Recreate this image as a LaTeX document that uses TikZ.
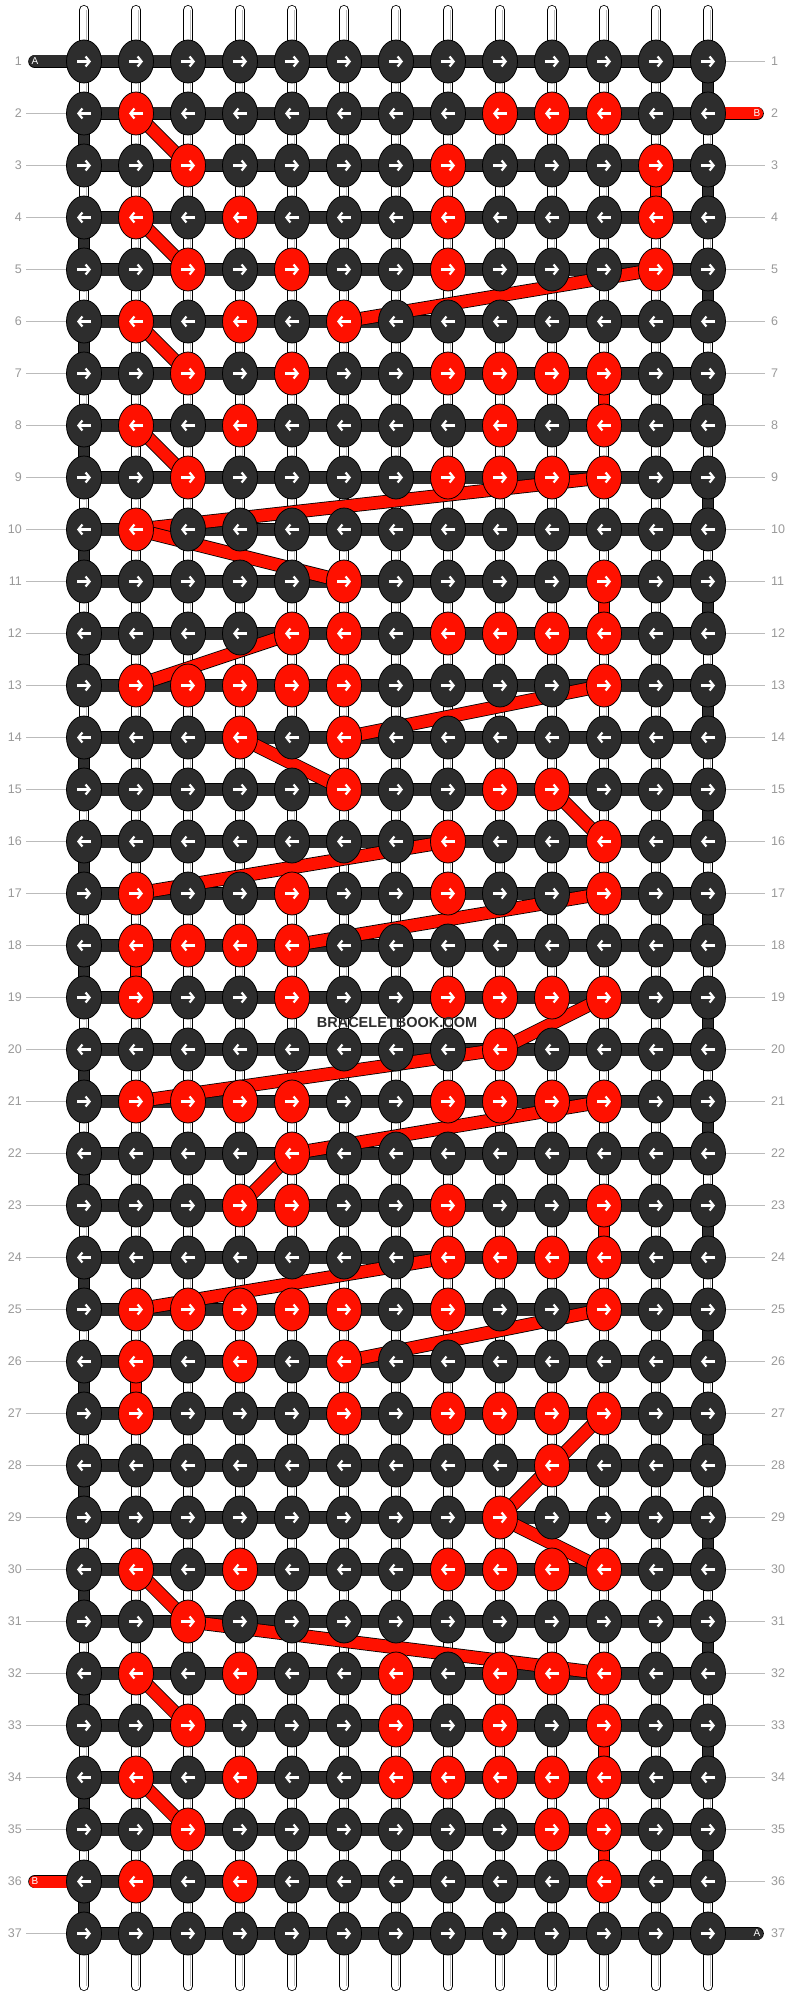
\documentclass[tikz,border=0pt]{standalone}
\usepackage{fontspec}
\setmainfont{Liberation Sans}
\usepackage{tikz}
\usetikzlibrary{arrows.meta}
\usetikzlibrary{shapes.geometric}
\definecolor{knotdark}{HTML}{2D2D2D}
\definecolor{knotred}{HTML}{FF1100}
\definecolor{numgray}{HTML}{999999}
\definecolor{linegray}{HTML}{BBBBBB}
\pgfdeclarelayer{strings}
\pgfdeclarelayer{bars}
\pgfsetlayers{strings,bars,main}
\tikzset{
	knotstyle/.style={ellipse,draw=black,line width=0.8pt,minimum width=35pt,minimum height=43pt,inner sep=0pt,fill=#1},
	arrowstyle/.style={white,line width=2.2pt,-{Straight Barb[length=4pt,width=10pt,line width=2.2pt]}},
	barstyle/.style={draw=black,line width=0.8pt,double=knotdark,double distance=12pt},
	vertstyle/.style={draw=black,line width=0.8pt,double=knotdark,double distance=10.4pt},
	redbarstyle/.style={draw=black,line width=0.8pt,double=knotred,double distance=12pt},
	redvertstyle/.style={draw=black,line width=0.8pt,double=knotred,double distance=10.4pt},
	threadstyle/.style={draw=black,line width=0.8pt,double=white,double distance=8.4pt,line cap=round},
	numstyle/.style={text=numgray,font=\fontsize{12.5}{14}\selectfont,inner sep=0pt},
	labelstyle/.style={text=white,font=\fontsize{10}{12}\selectfont,inner sep=0pt},
	markstyle/.style={text=knotdark,font=\bfseries\fontsize{14.5}{16}\selectfont,inner sep=0pt}
}

\begin{document}
\begin{tikzpicture}[x=1pt,y=-1pt]
	\useasboundingbox (0,0) rectangle (792,1996);
	\foreach \r/\reds in {1/{0},2/{2,9,10,11},3/{3,8,12},4/{2,4,8,12},5/{3,5,8,12},6/{2,4,6},
		7/{3,5,8,9,10,11},8/{2,4,9,11},9/{3,8,9,10,11},10/{2},11/{6,11},12/{5,6,8,9,10,11},
		13/{2,3,4,5,6,11},14/{4,6},15/{6,9,10},16/{8,11},17/{2,5,8,11},18/{2,3,4,5},
		19/{2,5,8,9,10,11},20/{9},21/{2,3,4,5,8,9,10,11},22/{5},23/{4,5,8,11},24/{8,9,10,11},
		25/{2,3,4,5,6,8,11},26/{2,4,6},27/{2,6,8,9,10,11},28/{10},29/{9},30/{2,4,8,9,10,11},
		31/{3},32/{2,4,7,9,10,11},33/{3,7,9,11},34/{2,4,7,8,9,10,11},35/{3,10,11},36/{2,4,11},37/{0}} {
		\foreach \c in {1,...,13} {
			\gdef\knotfill{knotdark}
			\foreach \x in \reds {\ifnum\x=\c\relax\gdef\knotfill{knotred}\fi}
			\node[knotstyle=\knotfill] (k-\r-\c) at ({32+52*\c},{9.5+52*\r}) {};
			\ifodd\r
				\draw[arrowstyle] ([xshift=-7pt]k-\r-\c.center) -- ([xshift=7pt]k-\r-\c.center);
			\else
				\draw[arrowstyle] ([xshift=7pt]k-\r-\c.center) -- ([xshift=-7pt]k-\r-\c.center);
			\fi
		}
		\node[numstyle,anchor=east] (nl-\r) at (22,{9.5+52*\r}) {\r};
		\node[numstyle,anchor=west] (nr-\r) at (771,{9.5+52*\r}) {\r};
	}
	\node[labelstyle] (a-in) at (35,61.5) {A};
	\node[labelstyle] (b-out) at (757,113.5) {B};
	\node[labelstyle] (b-in) at (35,1881.5) {B};
	\node[labelstyle] (a-out) at (757,1933.5) {A};
	\node[markstyle] (mark) at (397,1022) {BRACELETBOOK.COM};

	\begin{pgfonlayer}{strings}
		\fill[white] (0,0) rectangle (792,1996);
		\foreach \c in {1,...,13} {
			\coordinate (t-\c) at ({32+52*\c},10);
			\coordinate (b-\c) at ({32+52*\c},1986);
			\draw[threadstyle] (t-\c) -- (b-\c);
			\draw[linegray,line width=0.7pt] ([xshift=2pt]t-\c) -- ([xshift=2pt]b-\c);
		}
	\end{pgfonlayer}

	\begin{pgfonlayer}{bars}
		\foreach \r in {2,...,35,37}
			\draw[linegray] ([xshift=4pt]nl-\r.east) -- (k-\r-1.center);
		\foreach \r in {1,3,4,...,36}
			\draw[linegray] (k-\r-13.center) -- ([xshift=-6pt]nr-\r.west);
		\foreach \r in {1,...,37}
			\draw[barstyle] (k-\r-1.center) -- (k-\r-13.center);
		\draw[barstyle,line cap=round] (a-in.center) -- (k-1-1.center);
		\draw[barstyle,line cap=round] (k-37-13.center) -- (a-out.center);
		\draw[redbarstyle,line cap=round] (k-2-13.center) -- (b-out.center);
		\draw[redbarstyle,line cap=round] (b-in.center) -- (k-36-1.center);
		\foreach \r in {1,3,...,35} {
			\pgfmathtruncatemacro\n{\r+1}
			\draw[vertstyle] (k-\r-13.center) -- (k-\n-13.center);
		}
		\foreach \r in {2,4,...,36} {
			\pgfmathtruncatemacro\n{\r+1}
			\draw[vertstyle] (k-\r-1.center) -- (k-\n-1.center);
		}
		\foreach \r/\c in {3/12,7/11,11/11,18/2,23/11,26/2,33/11,35/11} {
			\pgfmathtruncatemacro\n{\r+1}
			\draw[redvertstyle] (k-\r-\c.center) -- (k-\n-\c.center);
		}
		\foreach \ra/\ca/\rb/\cb in {2/2/3/3,4/2/5/3,6/2/7/3,8/2/9/3,5/12/6/6,9/11/10/2,10/2/11/6,
			12/5/13/2,13/11/14/6,14/4/15/6,15/10/16/11,16/8/17/2,17/11/18/5,19/11/20/9,20/9/21/2,
			21/11/22/5,22/5/23/4,24/8/25/2,25/11/26/6,27/11/28/10,28/10/29/9,29/9/30/11,30/2/31/3,
			31/3/32/11,32/2/33/3,34/2/35/3}
			\draw[redbarstyle] (k-\ra-\ca.center) -- (k-\rb-\cb.center);
	\end{pgfonlayer}
\end{tikzpicture}
\end{document}
